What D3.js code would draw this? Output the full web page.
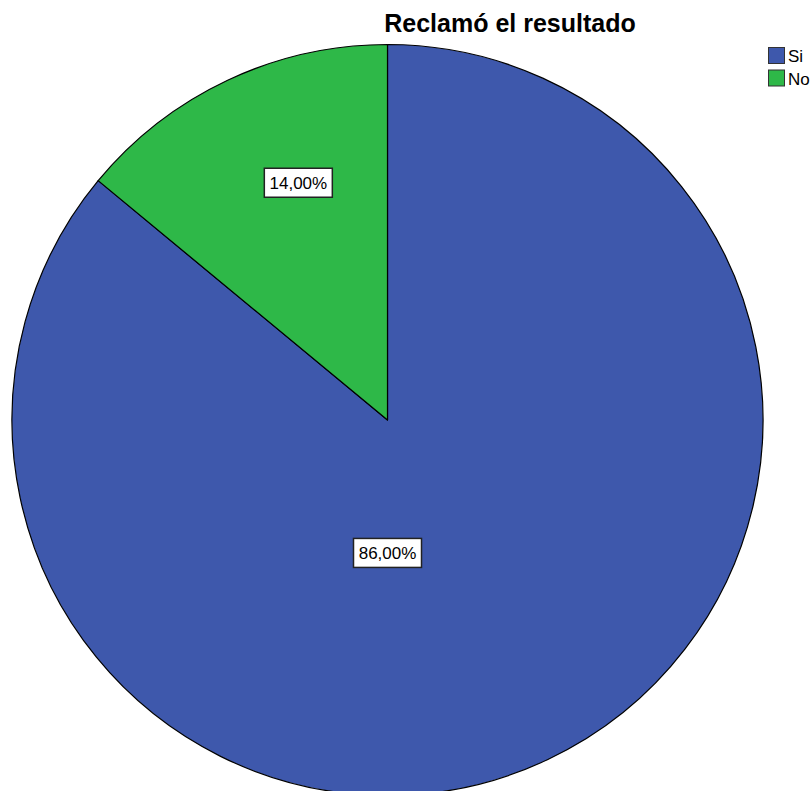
<!DOCTYPE html>
<html>
<head>
<meta charset="utf-8">
<script src="https://cdn.jsdelivr.net/npm/d3@7"></script>
<style>
  html, body { margin: 0; padding: 0; background: #fff; }
  svg { display: block; font-family: "Liberation Sans", Arial, sans-serif; }
</style>
</head>
<body>
<svg id="chart" width="811" height="791"></svg>
<script>
// ---- Data ----
const title = "Reclamó el resultado";
const categories = ["Si", "No"];
const values = [86.0, 14.0];
const labels = ["86,00%", "14,00%"];
const colors = ["#3E58AC", "#2EB848"];

// ---- Layout ----
const W = 811, H = 791;
const cx = 387.5, cy = 420, R = 375.5;
// label placement (fraction of radius, angle in degrees from 12 o'clock, clockwise)
const labelPlacement = [
  { rf: 0.354, deg: 180 },
  { rf: 0.675, deg: -20.6 }
];

const svg = d3.select("#chart");

const pie = d3.pie().sort(null).value(d => d)(values);
const arc = d3.arc().innerRadius(0).outerRadius(R);

const g = svg.append("g").attr("transform", `translate(${cx},${cy})`);

g.selectAll("path.slice")
  .data(pie)
  .join("path")
  .attr("class", "slice")
  .attr("d", arc)
  .attr("fill", (d, i) => colors[i])
  .attr("stroke", "#000")
  .attr("stroke-width", 1.2)
  .attr("stroke-linejoin", "round");

// Labels with boxes
const lab = g.selectAll("g.lab")
  .data(pie)
  .join("g")
  .attr("class", "lab")
  .attr("transform", (d, i) => {
    const p = labelPlacement[i];
    const a = p.deg * Math.PI / 180;
    return `translate(${Math.sin(a) * p.rf * R},${-Math.cos(a) * p.rf * R})`;
  });

lab.each(function(d, i) {
  const sel = d3.select(this);
  const t = sel.append("text")
    .attr("text-anchor", "middle")
    .attr("y", 6)
    .attr("font-size", 17)
    .attr("fill", "#000")
    .text(labels[i]);
  const bb = t.node().getBBox();
  const bw = 68, bh = 29;
  sel.insert("rect", "text")
    .attr("x", -bw / 2)
    .attr("y", -bh / 2)
    .attr("width", bw)
    .attr("height", bh)
    .attr("fill", "#fff")
    .attr("stroke", "#222")
    .attr("stroke-width", 1.5);
});

// Title
svg.append("text")
  .attr("x", 510)
  .attr("y", 32)
  .attr("text-anchor", "middle")
  .attr("font-size", 25)
  .attr("font-weight", "bold")
  .attr("fill", "#000")
  .text(title);

// Legend
const leg = svg.append("g").attr("transform", "translate(768,47)");
const items = leg.selectAll("g")
  .data(categories)
  .join("g")
  .attr("transform", (d, i) => `translate(0,${i * 22.5})`);
items.append("rect")
  .attr("x", 0.5).attr("y", 0.5)
  .attr("width", 16).attr("height", 16)
  .attr("fill", (d, i) => colors[i])
  .attr("stroke", "#333")
  .attr("stroke-width", 1);
items.append("text")
  .attr("x", 20)
  .attr("y", 15)
  .attr("font-size", 17)
  .attr("fill", "#000")
  .text(d => d);
</script>
</body>
</html>
